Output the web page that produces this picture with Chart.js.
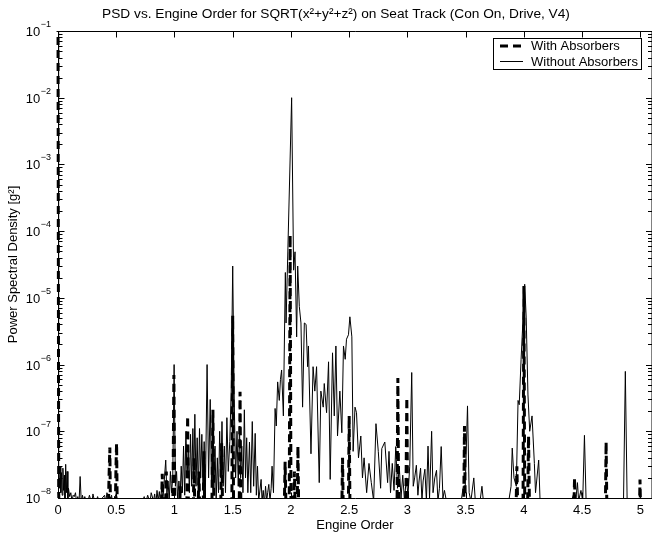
<!DOCTYPE html>
<html>
<head>
<meta charset="utf-8">
<script src="https://cdn.jsdelivr.net/npm/chart.js@4.4.1/dist/chart.umd.min.js"></script>
<style>
html,body{margin:0;padding:0;background:#fff;}
#wrap{width:652px;height:535px;position:relative;}
</style>
</head>
<body>
<div id="wrap"><canvas id="c" width="652" height="535"></canvas></div>
<script>
// ---------------- data ----------------
const chartTitle = 'PSD vs. Engine Order for SQRT(x²+y²+z²) on Seat Track (Con On, Drive, V4)';
const xAxisTitle = 'Engine Order';
const yAxisTitle = 'Power Spectral Density [g²]';
const seriesLabels = ['With Absorbers', 'Without Absorbers'];
const xTickValues = [0, 0.5, 1, 1.5, 2, 2.5, 3, 3.5, 4, 4.5, 5];
const yTickExponents = [-8, -7, -6, -5, -4, -3, -2, -1];

// [engine order, PSD g^2]  (values below 1e-8 fall under the axis floor)
const withAbsorbers = [
  [0,0.2],[0.006,1.2e-8],[0.012,4e-9],
  [0.43,4e-9],[0.438,2e-8],[0.445,5.7e-8],[0.452,4e-9],
  [0.49,4e-9],[0.498,3e-8],[0.503,6.6e-8],[0.51,4e-9],
  [0.885,4e-9],[0.895,2.3e-8],[0.905,4e-9],[0.92,4e-9],[0.93,2.5e-8],[0.94,4e-9],
  [0.985,4e-9],[0.995,7e-7],[1.004,4e-9],
  [1.04,4e-9],[1.05,1.5e-8],[1.06,4e-9],
  [1.105,4e-9],[1.113,1.7e-7],[1.121,4e-9],
  [1.16,4e-9],[1.168,4e-8],[1.176,4e-9],
  [1.20,4e-9],[1.21,2.5e-8],[1.22,4e-9],
  [1.245,4e-9],[1.253,5e-8],[1.261,4e-9],
  [1.32,4e-9],[1.33,2.1e-7],[1.34,4e-9],
  [1.395,4e-9],[1.405,6.6e-8],[1.415,4e-9],
  [1.492,4e-9],[1.50,5.4e-6],[1.508,4e-9],
  [1.555,4e-9],[1.563,3.9e-7],[1.571,4e-9],
  [1.94,4e-9],[1.95,3.5e-8],[1.96,4e-9],
  [1.985,4e-9],[1.993,8.7e-5],[2.001,4e-9],
  [2.02,4e-9],[2.03,2.5e-8],[2.04,4e-9],
  [2.052,4e-9],[2.06,6e-8],[2.068,4e-9],
  [2.435,4e-9],[2.443,4e-8],[2.451,4e-9],
  [2.492,4e-9],[2.50,1.7e-7],[2.508,4e-9],
  [2.91,4e-9],[2.918,6.3e-7],[2.926,4e-9],
  [2.985,4e-9],[2.995,3.2e-7],[3.003,4e-9],
  [3.482,4e-9],[3.49,1.2e-7],[3.498,4e-9],
  [3.93,4e-9],[3.94,3e-8],[3.95,4e-9],
  [3.992,4e-9],[4.0,1.5e-5],[4.008,4e-9],
  [4.03,4e-9],[4.04,8.5e-8],[4.05,4e-9],
  [4.427,4e-9],[4.435,2e-8],[4.443,4e-9],
  [4.698,4e-9],[4.706,6.9e-8],[4.714,4e-9],
  [4.99,4e-9],[4.997,1.9e-8],[5.004,4e-9],
  [5.1,4e-9]
];

const withoutAbsorbers = [
  [0,0.2],[0.005,2e-8],[0.012,1.4e-8],[0.018,3e-8],[0.024,1.2e-8],[0.03,2.4e-8],[0.036,1.1e-8],
  [0.042,2.8e-8],[0.048,1.3e-8],[0.055,2.2e-8],[0.06,9.5e-9],[0.066,3.2e-8],[0.072,1.2e-8],
  [0.078,2.5e-8],[0.085,9.5e-9],[0.09,1.4e-8],[0.1,1.05e-8],[0.11,1.2e-8],[0.12,9e-9],
  [0.13,1.1e-8],[0.14,1.05e-8],[0.15,1.2e-8],[0.16,8.5e-9],[0.17,1.05e-8],[0.18,8e-9],
  [0.19,2.1e-8],[0.2,8.5e-9],[0.21,1.1e-8],[0.22,9e-9],[0.23,1.05e-8],[0.25,8e-9],
  [0.27,1.1e-8],[0.29,8e-9],[0.3,1.15e-8],[0.32,8e-9],[0.34,1.05e-8],[0.36,8e-9],
  [0.38,1.0e-8],[0.4,1.1e-8],[0.41,8.5e-9],[0.42,1.2e-8],[0.44,9e-9],[0.46,1.1e-8],
  [0.47,8e-9],[0.49,1.05e-8],[0.5,1.15e-8],[0.52,8e-9],[0.56,7e-9],[0.62,6.5e-9],
  [0.68,7e-9],[0.72,8e-9],[0.74,1.05e-8],[0.75,8e-9],[0.77,1.1e-8],[0.79,8.5e-9],
  [0.8,1.2e-8],[0.82,9e-9],[0.83,1.15e-8],[0.84,8e-9],[0.85,1.3e-8],[0.86,9e-9],[0.87,1.25e-8],
  [0.88,8.5e-9],[0.89,1.5e-8],[0.90,9e-9],[0.91,1.6e-8],[0.925,3.7e-8],[0.935,1.1e-8],
  [0.945,1.8e-8],[0.955,9e-9],[0.965,2.5e-8],[0.975,1.2e-8],[0.985,2e-8],[0.997,1.0e-6],
  [1.008,1.5e-8],[1.018,2.5e-8],[1.028,9e-9],[1.038,1.8e-8],[1.048,1.0e-8],[1.058,3e-8],
  [1.068,1.2e-8],[1.078,6e-8],[1.088,1.1e-8],[1.098,1.0e-7],[1.108,2e-8],[1.118,5e-8],
  [1.128,1.2e-8],[1.138,9e-8],[1.148,1.5e-8],[1.158,1.1e-7],[1.166,2e-8],[1.175,1.8e-7],
  [1.185,1.5e-8],[1.195,8e-8],[1.205,1.2e-8],[1.215,1.1e-7],[1.225,2e-8],[1.235,9e-8],
  [1.245,1.5e-8],[1.255,7e-8],[1.265,1.1e-8],[1.28,1.0e-6],[1.293,2e-8],[1.307,3e-7],
  [1.318,1.5e-8],[1.328,8e-8],[1.338,1.2e-8],[1.348,6e-8],[1.358,9e-9],[1.368,4e-8],
  [1.378,1.2e-8],[1.388,1e-7],[1.398,2e-8],[1.408,1.4e-7],[1.418,1.5e-8],[1.428,6e-8],
  [1.438,1.2e-8],[1.45,1.6e-7],[1.462,2.5e-8],[1.475,7e-8],[1.487,4e-7],[1.50,3e-5],
  [1.513,3e-7],[1.525,2e-8],[1.537,1e-7],[1.548,1.5e-8],[1.558,1.2e-7],[1.568,2e-8],
  [1.578,6e-8],[1.588,1.2e-8],[1.60,2.1e-7],[1.61,2e-8],[1.62,8e-8],[1.63,1.2e-8],
  [1.644,6.9e-8],[1.655,1.2e-8],[1.668,1.4e-7],[1.68,1.5e-8],[1.693,9.3e-8],[1.703,1.1e-8],
  [1.713,3e-8],[1.723,9e-9],[1.744,1.9e-8],[1.752,9e-9],[1.762,1.3e-8],[1.772,8e-9],
  [1.782,1.5e-8],[1.792,9e-9],[1.80,1.2e-8],[1.81,1.6e-8],[1.82,9e-9],[1.83,1.4e-8],
  [1.838,3e-8],[1.85,1.2e-8],[1.864,2.2e-7],[1.874,1.2e-7],[1.886,5.5e-7],[1.90,2.9e-7],
  [1.91,6e-7],[1.92,8.3e-7],[1.935,1.7e-7],[1.952,2.4e-5],[1.958,4.2e-6],[2.006,1e-2],
  [2.023,2.6e-5],[2.035,4.9e-5],[2.049,2.6e-6],[2.058,3e-5],[2.072,7.4e-6],[2.086,4.2e-6],
  [2.10,2.3e-7],[2.115,4.2e-6],[2.13,4e-6],[2.143,9.3e-7],[2.15,1.9e-6],[2.172,4.6e-8],
  [2.19,9.3e-7],[2.205,4e-7],[2.22,9.3e-7],[2.243,1.7e-8],[2.257,4e-7],[2.277,2.3e-7],
  [2.286,5.2e-7],[2.306,1.9e-7],[2.323,1.1e-6],[2.337,1.9e-8],[2.357,1.5e-6],[2.372,1.7e-7],
  [2.386,1.9e-6],[2.40,8.5e-8],[2.42,4e-7],[2.437,9.5e-8],[2.451,1.9e-6],[2.466,1.2e-6],
  [2.477,2.4e-6],[2.494,2.8e-6],[2.506,5.2e-6],[2.523,2.6e-6],[2.534,5e-8],[2.55,2.3e-7],
  [2.563,1.9e-7],[2.58,4e-8],[2.60,8.5e-8],[2.614,2e-8],[2.628,4e-8],[2.65,1.2e-8],
  [2.67,3.3e-8],[2.69,1.7e-8],[2.71,9e-9],[2.73,1.3e-7],[2.75,5e-8],[2.77,1.4e-8],
  [2.78,5.5e-8],[2.806,6.9e-8],[2.83,1.7e-8],[2.842,5e-8],[2.855,1.2e-8],[2.87,3.3e-8],
  [2.885,1.3e-8],[2.90,5.9e-8],[2.915,1.4e-8],[2.93,3e-8],[2.945,1e-8],[2.96,2.2e-8],
  [2.975,9e-9],[2.99,2e-8],[3.005,1.1e-8],[3.02,3e-8],[3.037,7.6e-7],[3.05,1.5e-8],
  [3.062,2e-8],[3.077,3.1e-8],[3.09,1.1e-8],[3.1,1.8e-8],[3.113,2.8e-8],[3.125,9e-9],
  [3.135,1.8e-8],[3.15,2.7e-8],[3.163,9e-9],[3.177,6e-8],[3.19,1e-8],[3.208,1e-7],
  [3.22,1.2e-8],[3.235,2e-8],[3.25,2.6e-8],[3.262,9e-9],[3.275,1.4e-8],[3.29,5.9e-8],
  [3.305,1e-8],[3.318,1.3e-8],[3.34,8e-9],[3.38,7e-9],[3.42,8e-9],[3.46,8.5e-9],
  [3.48,1.5e-8],[3.495,1.2e-8],[3.516,2.4e-7],[3.53,1.2e-8],[3.545,9e-9],[3.57,2e-8],
  [3.585,8e-9],[3.62,8e-9],[3.64,1.5e-8],[3.655,8e-9],[3.7,7e-9],[3.78,7e-9],
  [3.85,8e-9],[3.87,9e-9],[3.89,1.5e-8],[3.90,5.6e-8],[3.915,2e-8],[3.935,1.5e-8],
  [3.95,2.9e-7],[3.96,2.5e-7],[3.976,1.2e-6],[4.007,1.6e-5],[4.02,5e-6],[4.035,3.5e-7],
  [4.05,1e-7],[4.07,1.7e-7],[4.09,3.3e-8],[4.1,1.2e-8],[4.127,3.7e-8],[4.14,8e-9],
  [4.2,7e-9],[4.3,7e-9],[4.4,8e-9],[4.43,1.2e-8],[4.445,9e-9],[4.46,1.7e-8],
  [4.47,9e-9],[4.49,1.3e-8],[4.505,9e-9],[4.52,8.7e-8],[4.535,8e-9],[4.6,7e-9],
  [4.7,7e-9],[4.8,7e-9],[4.855,8e-9],[4.871,7.9e-7],[4.887,8e-9],[4.95,7e-9],[5.1,7e-9]
];

// ---------------- helpers ----------------
const FONT = "'Liberation Sans', Arial, Helvetica, sans-serif";
const toXY = arr => arr.map(([x, y]) => ({x, y}));

Chart.defaults.font.family = FONT;
Chart.defaults.font.size = 13;
Chart.defaults.color = '#000';

const TITLE_CENTER_X = 336;

const matlabAxes = {
  id: 'matlabAxes',
  afterLayout(chart) {
    const tb = chart.titleBlock;
    if (tb) {
      const shift = TITLE_CENTER_X - (tb.left + tb.right) / 2;
      tb.left += shift; tb.right += shift;
    }
  },
  afterDatasetsDraw(chart) {
    const {ctx, chartArea: a, scales: {x, y}} = chart;
    const L = Math.round(a.left) + 0.5, T = Math.round(a.top) + 0.5;
    const R = a.right, B = Math.round(a.bottom) + 0.5;
    ctx.save();
    ctx.strokeStyle = '#000';
    ctx.lineWidth = 1;
    ctx.setLineDash([]);
    ctx.beginPath();
    ctx.moveTo(L, T); ctx.lineTo(R, T); ctx.lineTo(R, B); ctx.lineTo(L, B); ctx.closePath();
    xTickValues.forEach(v => {
      const px = Math.round(x.getPixelForValue(v)) + 0.5;
      ctx.moveTo(px, B); ctx.lineTo(px, B - 6);
      ctx.moveTo(px, T); ctx.lineTo(px, T + 6);
    });
    yTickExponents.forEach(e => {
      const py = Math.round(y.getPixelForValue(Math.pow(10, e))) + 0.5;
      ctx.moveTo(L, py); ctx.lineTo(L + 6, py);
      ctx.moveTo(R, py); ctx.lineTo(R - 6, py);
      if (e < -1) {
        for (let k = 2; k <= 9; k++) {
          const pm = Math.round(y.getPixelForValue(k * Math.pow(10, e))) + 0.5;
          ctx.moveTo(L, pm); ctx.lineTo(L + 4, pm);
          ctx.moveTo(R, pm); ctx.lineTo(R - 4, pm);
        }
      }
    });
    ctx.stroke();

    // y tick labels: 10 with superscript exponent
    ctx.fillStyle = '#000';
    ctx.textBaseline = 'alphabetic';
    yTickExponents.forEach(e => {
      const py = y.getPixelForValue(Math.pow(10, e));
      const expText = (e < 0 ? '\u2212' : '') + Math.abs(e);
      ctx.font = '9px ' + FONT;
      const w = ctx.measureText(expText).width;
      const ex = 51 - w;
      ctx.textAlign = 'left';
      ctx.fillText(expText, ex, py - 4);
      ctx.font = '13px ' + FONT;
      ctx.textAlign = 'right';
      ctx.fillText('10', ex - 0.5, py + 5);
    });
    ctx.restore();
  },
  afterDraw(chart) {
    const {ctx} = chart;
    const lx = 493.5, ly = 38.5, lw = 148, lh = 31;
    ctx.save();
    ctx.fillStyle = '#fff';
    ctx.fillRect(lx, ly, lw, lh);
    ctx.strokeStyle = '#000';
    ctx.lineWidth = 1;
    ctx.strokeRect(lx, ly, lw, lh);
    ctx.font = '13px ' + FONT;
    ctx.textBaseline = 'middle';
    ctx.textAlign = 'left';
    ctx.fillStyle = '#000';
    chart.data.datasets.forEach((ds, i) => {
      const yy = 46 + i * 15.5;
      ctx.beginPath();
      ctx.lineWidth = ds.borderWidth;
      ctx.setLineDash(ds.borderDash || []);
      ctx.moveTo(500, yy); ctx.lineTo(523, yy);
      ctx.stroke();
      ctx.setLineDash([]);
      ctx.fillText(ds.label, 531, yy + 0.5);
    });
    ctx.restore();
  }
};

new Chart(document.getElementById('c'), {
  type: 'line',
  data: {
    datasets: [
      {
        label: seriesLabels[0],
        data: toXY(withAbsorbers),
        borderColor: '#000',
        borderWidth: 3,
        borderDash: [8, 5],
        pointRadius: 0,
        tension: 0,
        fill: false,
        clip: {left: 2, top: 0, right: 0, bottom: 0},
        order: 2
      },
      {
        label: seriesLabels[1],
        data: toXY(withoutAbsorbers),
        borderColor: '#000',
        borderWidth: 1,
        pointRadius: 0,
        tension: 0,
        fill: false,
        order: 1
      }
    ]
  },
  options: {
    responsive: false,
    animation: false,
    devicePixelRatio: 1,
    layout: {padding: {left: 0, right: -1.5, top: 0, bottom: 0}},
    plugins: {
      legend: {display: false},
      tooltip: {enabled: false},
      title: {
        display: true,
        text: chartTitle,
        color: '#000',
        font: {size: 13.7, weight: 'normal', family: FONT},
        padding: {top: 6.3, bottom: 8.26}
      }
    },
    scales: {
      x: {
        type: 'linear',
        min: 0,
        max: 5.1,
        afterBuildTicks: s => { s.ticks = xTickValues.map(v => ({value: v})); },
        afterFit: s => { s.height = 37; },
        grid: {display: false, drawTicks: false},
        border: {display: false},
        ticks: {padding: 4.2, maxRotation: 0, autoSkip: false, color: '#000', font: {size: 13}, callback: v => String(v)},
        title: {display: true, text: xAxisTitle, color: '#000', font: {size: 13}, padding: {top: 0, bottom: 2.2}}
      },
      y: {
        type: 'logarithmic',
        min: 1e-8,
        max: 1e-1,
        afterBuildTicks: s => { s.ticks = yTickExponents.map(e => ({value: Math.pow(10, e)})); },
        afterFit: s => { s.width = 58; },
        grid: {display: false, drawTicks: false},
        border: {display: false},
        ticks: {display: false},
        title: {display: true, text: yAxisTitle, color: '#000', font: {size: 13}, padding: {top: 6, bottom: 0}}
      }
    }
  },
  plugins: [matlabAxes]
});
</script>
</body>
</html>
